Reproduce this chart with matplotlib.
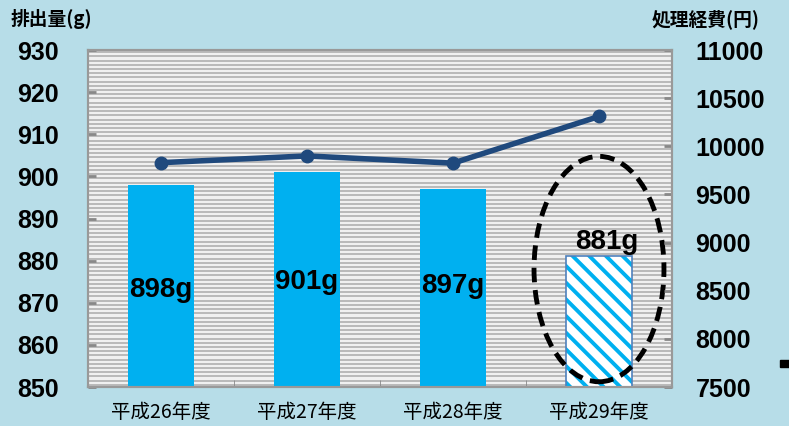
import numpy as np
import matplotlib.pyplot as plt
from matplotlib.patches import Ellipse, Rectangle

plt.rcParams['font.family'] = ['Liberation Sans', 'Noto Sans CJK JP', 'DejaVu Sans']
plt.rcParams['hatch.linewidth'] = 2.8

years = ['平成26年度', '平成27年度', '平成28年度', '平成29年度']
amount = [898, 901, 897, 881]          # 排出量 (g)
amount_labels = ['898g', '901g', '897g', '881g']
cost = [9830, 9900, 9825, 10310]       # 処理経費 (円)

bg = '#b7dde8'
fig = plt.figure(figsize=(7.89, 4.26), dpi=100, facecolor=bg)
ax = fig.add_axes([0.1115, 0.0915, 0.7402, 0.7911])
ax.set_facecolor('#f0f0f0')

x = np.arange(len(years))
# striped plot background
for yy in np.arange(850.5, 930, 1):
    ax.axhline(yy, color='#aaaaaa', lw=1.1, zorder=0)

ax.bar(x[:3], amount[:3], width=0.45, color='#00b0f0', zorder=2)
ax.bar(x[3], amount[3], width=0.45, facecolor='white', edgecolor='#00b0f0',
       hatch='\\\\', linewidth=0, zorder=2)
ax.bar(x[3], amount[3], width=0.45, fill=False, edgecolor='#4f81bd',
       linewidth=1.2, zorder=3)

ax.set_ylim(850, 930)
ax.set_xlim(-0.5, 3.5)
ax.set_yticks(np.arange(850, 931, 10))
ax.set_xticks(x)
ax.set_xticklabels(years, fontsize=14, family=['Noto Sans CJK JP'])
ax.set_xticks([0.5, 1.5, 2.5], minor=True)
ax.tick_params(axis='x', which='major', length=0, pad=11)
ax.tick_params(axis='x', which='minor', direction='in', length=5, color='#888888')
ax.tick_params(axis='y', direction='in', length=6, color='#888888', width=2,
               labelsize=18, pad=21)
for lab in ax.get_yticklabels():
    lab.set_fontweight('bold')

label_y = [873, 875, 874, 884.5]
for i in range(4):
    ax.text(x[i] + (0.05 if i == 3 else 0), label_y[i], amount_labels[i],
            ha='center', va='center', fontsize=20, fontweight='bold', zorder=5)

ax.add_patch(Ellipse((3, 878), 0.89, 53.5, fill=False, edgecolor='black',
                     lw=3.5, linestyle=(0, (3, 1.6)), zorder=6))

ax2 = ax.twinx()
ax2.plot(x, cost, color='#1f497d', lw=4, marker='o', markersize=9, zorder=4)
ax2.set_ylim(7500, 11000)
ax2.set_yticks(np.arange(7500, 11001, 500))
ax2.tick_params(axis='y', direction='in', length=6, color='#888888', width=2,
                labelsize=18, pad=17)
for lab in ax2.get_yticklabels():
    lab.set_fontweight('bold')

for a in (ax, ax2):
    for s in a.spines.values():
        s.set_color('#999999')
        s.set_linewidth(1.5)

fig.text(0.013, 0.955, '排出量(g)', fontsize=13.5, fontweight='bold',
         family=['Noto Sans CJK JP'], va='center', ha='left')
fig.text(0.826, 0.955, '処理経費(円)', fontsize=13.5, fontweight='bold',
         family=['Noto Sans CJK JP'], va='center', ha='left')
fig.patches.append(Rectangle((0.988, 0.138), 0.012, 0.016,
                             transform=fig.transFigure, color='black'))

fig.savefig('out.png', dpi=100, facecolor=bg)
